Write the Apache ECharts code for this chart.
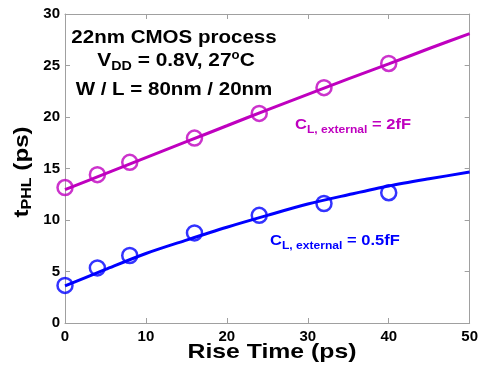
<!DOCTYPE html>
<html><head><meta charset="utf-8">
<script src="https://cdn.jsdelivr.net/npm/echarts@6/dist/echarts.min.js"></script>
<style>html,body{margin:0;padding:0;background:#fff}#c{width:481px;height:366px}</style>
</head><body><div id="c"></div>
<script>
var riseTimes = [0, 4, 8, 16, 24, 32, 40];
var tphl2fF = [13.15, 14.4, 15.6, 17.95, 20.35, 22.85, 25.2];
var tphl05fF = [3.65, 5.35, 6.55, 8.75, 10.45, 11.6, 12.65];
var fitX = [0, 5, 10, 15, 20, 25, 30, 35, 40, 45, 50];
var fit2fF = [12.95, 14.5, 16.05, 17.6, 19.15, 20.7, 22.2, 23.7, 25.15, 26.65, 28.1];
var fit05fF = [3.6, 5.2, 6.75, 8.05, 9.3, 10.45, 11.55, 12.45, 13.3, 14.0, 14.65];

var MAG = '#bf00bf', BLU = '#0000ff';
function pairs(xs, ys){ return xs.map(function(x,i){return [x, ys[i]];}); }
var FF = 'Liberation Sans, Arial, sans-serif';
var chart = echarts.init(document.getElementById('c'), null, {renderer:'canvas'});
var axBase = {
  min: 0, interval: 10, splitLine:{show:false},
  axisLine:{show:true, onZero:false, lineStyle:{color:'#a0a0a0', width:1}},
  axisTick:{show:true, inside:true, length:5, lineStyle:{color:'#a0a0a0'}},
};
chart.setOption({
  animation:false,
  grid:{left:65, right:9, top:14, bottom:43, containLabel:false},
  xAxis:[
    Object.assign({}, axBase, {type:'value', max:50, position:'bottom',
      axisLabel:{color:'#000', fontFamily:FF, fontWeight:'bold', fontSize:15, margin:6}}),
    Object.assign({}, axBase, {type:'value', max:50, position:'top', axisLabel:{show:false}})
  ],
  yAxis:[
    Object.assign({}, axBase, {type:'value', max:30, position:'left', interval:5,
      axisLabel:{color:'#000', fontFamily:FF, fontWeight:'bold', fontSize:15, margin:5}}),
    Object.assign({}, axBase, {type:'value', max:30, position:'right', interval:5, axisLabel:{show:false}})
  ],
  series:[
    {type:'line', data:pairs(fitX, fit2fF), smooth:0.3, showSymbol:false, lineStyle:{color:MAG, width:3}, z:2},
    {type:'line', data:pairs(fitX, fit05fF), smooth:0.3, showSymbol:false, lineStyle:{color:BLU, width:3}, z:2},
    {type:'scatter', data:pairs(riseTimes, tphl2fF), symbol:'circle', symbolSize:15,
      itemStyle:{color:'rgba(0,0,0,0)', borderColor:MAG, borderWidth:2.5}, z:3},
    {type:'scatter', data:pairs(riseTimes, tphl05fF), symbol:'circle', symbolSize:15,
      itemStyle:{color:'rgba(0,0,0,0)', borderColor:BLU, borderWidth:2.5}, z:3}
  ],
  graphic:[
    {type:'text', x:174, y:38, scaleX:1.08, style:{text:'22nm CMOS process', font:'bold 19px '+FF, fill:'#000', align:'center', verticalAlign:'middle'}},
    {type:'text', x:176, y:61, scaleX:1.1, style:{text:'{a|V}{s|DD}{a| = 0.8V, 27}{p|o}{a|C}', align:'center', verticalAlign:'middle',
      rich:{a:{font:'bold 19px '+FF, fill:'#000'}, s:{font:'bold 13px '+FF, fill:'#000', padding:[10,0,0,0]}, p:{font:'bold 12px '+FF, fill:'#000', padding:[0,0,10,0]}}}},
    {type:'text', x:174, y:90, scaleX:1.08, style:{text:'W / L = 80nm / 20nm', font:'bold 19px '+FF, fill:'#000', align:'center', verticalAlign:'middle'}},
    {type:'text', x:295, y:125, scaleX:1.1, style:{text:'{a|C}{s|L, external}{a| = 2fF}', align:'left', verticalAlign:'middle',
      rich:{a:{font:'bold 15px '+FF, fill:MAG}, s:{font:'bold 11px '+FF, fill:MAG, padding:[9,0,0,0]}}}},
    {type:'text', x:270, y:241, scaleX:1.1, style:{text:'{a|C}{s|L, external}{a| = 0.5fF}', align:'left', verticalAlign:'middle',
      rich:{a:{font:'bold 15px '+FF, fill:BLU}, s:{font:'bold 11px '+FF, fill:BLU, padding:[9,0,0,0]}}}},
    {type:'text', x:272, y:352, scaleX:1.18, style:{text:'Rise Time (ps)', font:'bold 21px '+FF, fill:'#000', align:'center', verticalAlign:'middle'}},
    {type:'text', x:22, y:172, rotation:Math.PI/2, scaleX:1.15, style:{text:'{a|t}{s|PHL}{a| (ps)}', align:'center', verticalAlign:'middle',
      rich:{a:{font:'bold 21px '+FF, fill:'#000'}, s:{font:'bold 14px '+FF, fill:'#000', padding:[10,0,0,0]}}}}
  ]
});
</script></body></html>
